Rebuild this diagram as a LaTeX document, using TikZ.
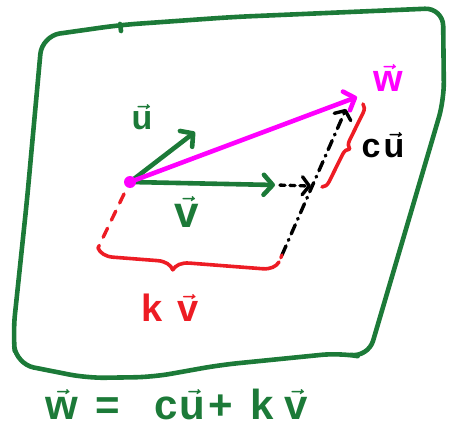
\documentclass[tikz,border=0pt]{standalone}
\usepackage{amsmath}
\usepackage{fontspec}
\setsansfont{Liberation Sans}
\usetikzlibrary{arrows.meta, decorations.pathreplacing}

\definecolor{penGreen}{RGB}{28,122,56}
\definecolor{penRed}{RGB}{237,28,36}
\definecolor{penMag}{RGB}{255,0,255}
\newcommand{\hv}[1]{\ensuremath{\vec{\mbox{#1}}}}

\begin{document}
\begin{tikzpicture}[x=1pt, y=-1pt, line cap=round, line join=round,
  pen/.style={line width=4.6pt},
  tip/.style={-{Straight Barb[length=9pt 0, width=20pt 0, round]}},
  dsh/.style={line width=3.4pt, dash pattern=on 6pt off 6pt},
  brc/.style={draw=penRed, line width=3.6pt, decorate,
              decoration={brace, amplitude=#1, aspect=0.5}},
  brc/.default=10pt,
  lab/.style={font=\sffamily\bfseries\mathversion{bold}\fontsize{34}{36}\selectfont,
              inner sep=0pt}]
\useasboundingbox (0,0) rectangle (449,433);
% the plane
\draw[pen, penGreen, rounded corners=18pt]
  (120,25) -- (233,17) -- (443,8) -- (444,100) -- (368,358)
  -- (340,353) -- (220,365) -- (153,377) -- (87,378)
  -- (16,364) -- (13,333) -- (27,200) -- (42,36) -- cycle;
\draw[pen, penGreen] (120,24) -- (121,31);
% points
\coordinate (o)  at (130,182);
\coordinate (ut) at (195,132);
\coordinate (vt) at (275,185);
\coordinate (wt) at (357,97);
\coordinate (pv) at (311,186);
\coordinate (dl) at (282,255);
\coordinate (dt) at (346,109);
\coordinate (o1) at (124,194);
\coordinate (kl) at (98,248);
\coordinate (kr) at (279,262);
\coordinate (ct) at (363,104);
\coordinate (cb) at (322,187);
% vectors
\draw[pen, penGreen, tip] (o) -- (ut);
\draw[pen, penGreen, tip] (o) -- (vt);
\draw[pen, penMag, tip] (o) -- (wt);
\fill[penMag] (o) circle (6);
% construction lines
\draw[dsh, black, dash pattern=on 5pt off 5pt,
  -{Straight Barb[length=7pt 0, width=18pt 0, round]}, shorten <=5pt] (vt) -- (pv);
\draw[dsh, black, dash pattern=on 10pt off 6pt on 1pt off 6pt,
  -{Straight Barb[length=7pt 0, width=18pt 0, round]}] (dl) -- (dt);
\draw[dsh, penRed, dash pattern=on 10pt off 9pt] (o1) -- (kl);
\draw[dsh, penRed, dash pattern=on 3pt off 20pt] (dl) -- (kr);
% braces
\draw[brc=16pt, decoration={aspect=0.58}] (kr) -- (kl);
\draw[brc=8pt] (ct) -- (cb);
% labels
\node[lab, text=penGreen] (ulab) at (142,117) {\hv{u}};
\node[lab, text=penGreen, font=\sffamily\bfseries\mathversion{bold}\fontsize{44}{46}\selectfont]
  (vlab) at (187,212) {\hv{v}};
\node[lab, text=penMag, font=\sffamily\bfseries\mathversion{bold}\fontsize{38}{40}\selectfont]
  (wlab) at (388,78) {\hv{w}};
\node[lab, text=black] (culab) at (383,145) {c\hspace{3pt}\hv{u}};
\node[lab, text=penRed, font=\sffamily\bfseries\mathversion{bold}\fontsize{38}{40}\selectfont]
  (kvlab) at (170,308) {k\hspace{14pt}\hv{v}};
\node[lab, text=penGreen, anchor=west,
  font=\sffamily\bfseries\mathversion{bold}\fontsize{42}{44}\selectfont]
  (eq) at (45,404)
  {\hv{w}\hspace{18pt}=\hspace{34pt}c\hspace{2pt}\hv{u}\hspace{3pt}+\hspace{18pt}k\hspace{10pt}\hv{v}};
\end{tikzpicture}
\end{document}
